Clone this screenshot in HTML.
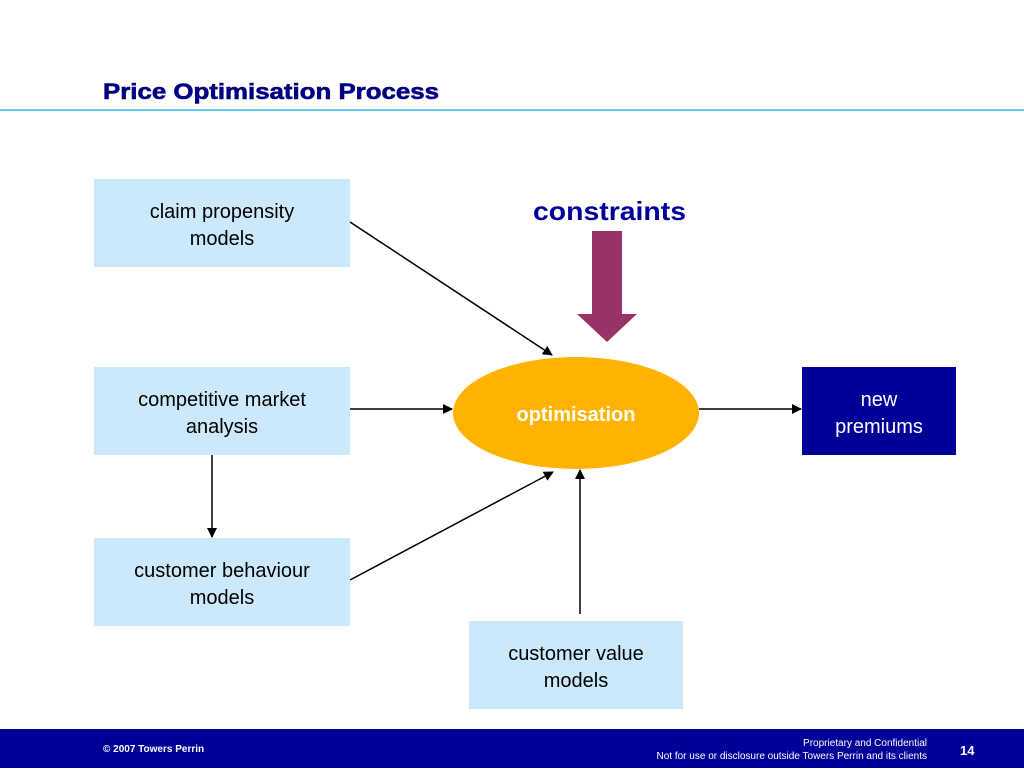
<!DOCTYPE html>
<html><head><meta charset="utf-8"><style>
body{margin:0;width:1024px;height:768px;overflow:hidden;background:#fff;font-family:"Liberation Sans",sans-serif}
</style></head><body>
<svg width="1024" height="768" xmlns="http://www.w3.org/2000/svg" font-family="Liberation Sans, sans-serif">
<defs><marker id="a" markerWidth="10" markerHeight="10" refX="9" refY="5" orient="auto" markerUnits="userSpaceOnUse"><path d="M0,0 L10,5 L0,10 z" fill="#000"/></marker></defs>
<text x="103" y="99" font-size="22" font-weight="bold" fill="#000080" stroke="#000080" stroke-width="0.6" textLength="336" lengthAdjust="spacingAndGlyphs">Price Optimisation Process</text>
<rect x="0" y="109" width="1024" height="2" fill="#66ccee"/>
<g fill="#cce9fb">
<rect x="94" y="179" width="256" height="88"/>
<rect x="94" y="367" width="256" height="88"/>
<rect x="94" y="538" width="256" height="88"/>
<rect x="469" y="621" width="214" height="88"/>
</g>
<rect x="802" y="367" width="154" height="88" fill="#000099"/>
<g font-size="20" fill="#000" text-anchor="middle">
<text x="222" y="218">claim propensity</text><text x="222" y="245">models</text>
<text x="222" y="406">competitive market</text><text x="222" y="433">analysis</text>
<text x="222" y="577">customer behaviour</text><text x="222" y="604">models</text>
<text x="576" y="660">customer value</text><text x="576" y="687">models</text>
<text x="879" y="406" fill="#fff">new</text><text x="879" y="433" fill="#fff">premiums</text>
</g>
<text x="533" y="220" font-size="26" font-weight="bold" fill="#000099" textLength="153" lengthAdjust="spacingAndGlyphs">constraints</text>
<path d="M592,231 H622 V314 H637 L607,342 L577,314 H592 Z" fill="#993366"/>
<ellipse cx="576" cy="413" rx="123" ry="56" fill="#ffb300"/>
<text x="576" y="421" font-size="20" font-weight="bold" fill="#fff" text-anchor="middle">optimisation</text>
<g stroke="#000" stroke-width="1.5" fill="none" marker-end="url(#a)">
<line x1="350" y1="222" x2="552" y2="355"/>
<line x1="350" y1="409" x2="452" y2="409"/>
<line x1="212" y1="455" x2="212" y2="537"/>
<line x1="350" y1="580" x2="553" y2="472"/>
<line x1="580" y1="614" x2="580" y2="470"/>
<line x1="699" y1="409" x2="801" y2="409"/>
</g>
<rect x="0" y="729" width="1024" height="39" fill="#000099"/>
<text x="103" y="752" font-size="10" font-weight="bold" fill="#fff">© 2007 Towers Perrin</text>
<text x="927" y="746" font-size="10" fill="#fff" text-anchor="end">Proprietary and Confidential</text>
<text x="927" y="759" font-size="10" fill="#fff" text-anchor="end">Not for use or disclosure outside Towers Perrin and its clients</text>
<text x="960" y="755" font-size="13" font-weight="bold" fill="#fff">14</text>
</svg>
</body></html>
